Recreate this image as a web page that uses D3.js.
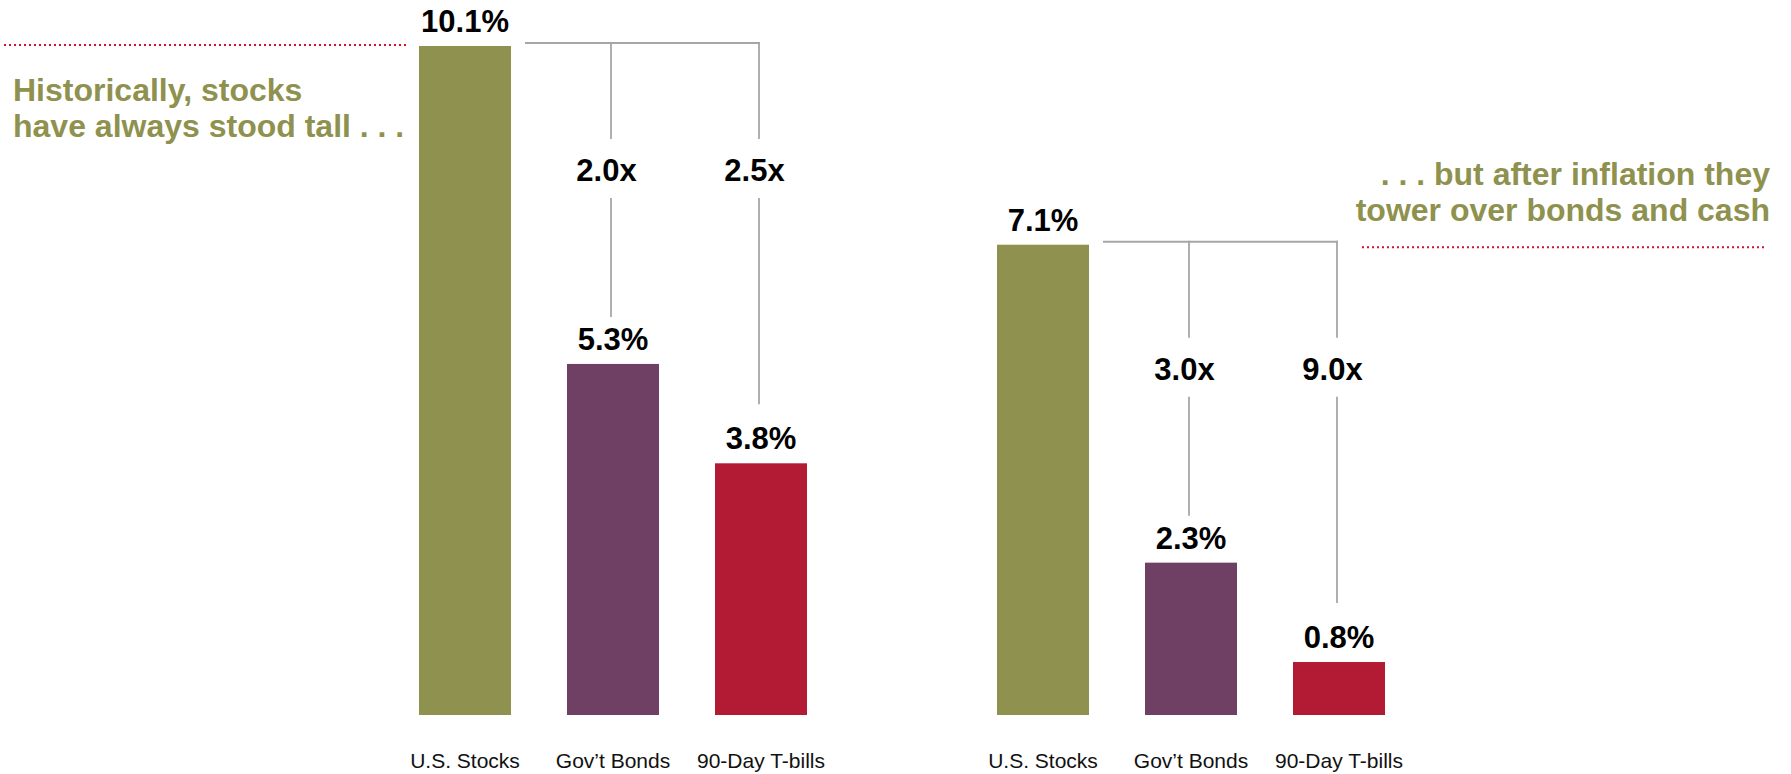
<!DOCTYPE html>
<html>
<head>
<meta charset="utf-8">
<script src="https://cdn.jsdelivr.net/npm/d3@7"></script>
<style>
  html, body { margin: 0; padding: 0; background: #ffffff; }
  svg { display: block; }
  text { font-family: "Liberation Sans", Arial, Helvetica, sans-serif; }
</style>
</head>
<body>
<script>
// Asset classes shown in each panel
const categories = ["U.S. Stocks", "Gov\u2019t Bonds", "90-Day T-bills"];
// Average annual returns, before inflation (left) and after inflation (right)
const nominalReturns = [10.1, 5.3, 3.8];
const realReturns = [7.1, 2.3, 0.8];
// How many times stocks out-earn bonds and T-bills in each panel
const nominalMultiples = ["2.0x", "2.5x"];
const realMultiples = ["3.0x", "9.0x"];
const barColors = ["#8f914f", "#6f4063", "#b31b34"];

const W = 1791, H = 774;
const olive = "#8f914f";
const bracketGray = "#a6a6a6";
const dotRed = "#d6112e";

const svg = d3.select("body").append("svg")
  .attr("width", W).attr("height", H);

// Shared vertical scale for both panels
const y = d3.scaleLinear().domain([0, 10.1]).range([715, 46]);

const fmtPct = d => d3.format(".1f")(d) + "%";

function panel(x0, values, multiples) {
  const x = d3.scaleBand()
    .domain(categories)
    .range([x0, x0 + 444])
    .paddingInner(56 / 148)
    .paddingOuter(28 / 148);

  const g = svg.append("g");
  const rows = categories.map((c, i) => ({ c, v: values[i], color: barColors[i] }));

  g.selectAll("rect.bar").data(rows).join("rect")
    .attr("class", "bar")
    .attr("x", d => x(d.c))
    .attr("width", x.bandwidth())
    .attr("y", d => y(d.v))
    .attr("height", d => y(0) - y(d.v))
    .attr("fill", d => d.color);

  g.selectAll("text.val").data(rows).join("text")
    .attr("class", "val")
    .attr("x", d => x(d.c) + x.bandwidth() / 2)
    .attr("y", d => y(d.v) - 14)
    .attr("text-anchor", "middle")
    .attr("font-size", 31)
    .attr("font-weight", "bold")
    .attr("fill", "#000")
    .text(d => fmtPct(d.v));

  // Category axis labels (no axis line)
  g.selectAll("text.cat").data(categories).join("text")
    .attr("class", "cat")
    .attr("x", d => x(d) + x.bandwidth() / 2)
    .attr("y", 768)
    .attr("text-anchor", "middle")
    .attr("font-size", 21)
    .attr("fill", "#111")
    .text(d => d);

  // Comparison bracket from the stock bar to the other two
  const cx = c => x(c) + x.bandwidth() / 2 - 2;
  const hy = y(values[0]) - 3;
  const xStart = x(categories[0]) + x.bandwidth() + 14;
  const xEnd = cx(categories[2]);
  g.append("line")
    .attr("x1", xStart).attr("x2", xEnd + 1)
    .attr("y1", hy).attr("y2", hy)
    .attr("stroke", bracketGray).attr("stroke-width", 2);

  const labelBase = hy + 138;
  const endGap = [47, 59];
  [1, 2].forEach((i, k) => {
    const lx = cx(categories[i]);
    g.append("line")
      .attr("x1", lx).attr("x2", lx)
      .attr("y1", hy - 1).attr("y2", labelBase - 42)
      .attr("stroke", bracketGray).attr("stroke-width", 1.8);
    g.append("line")
      .attr("x1", lx).attr("x2", lx)
      .attr("y1", labelBase + 17).attr("y2", y(values[i]) - endGap[k])
      .attr("stroke", bracketGray).attr("stroke-width", 1.8);
    g.append("text")
      .attr("x", lx - 4.5)
      .attr("y", labelBase)
      .attr("text-anchor", "middle")
      .attr("font-size", 31)
      .attr("font-weight", "bold")
      .attr("fill", "#000")
      .text(multiples[k]);
  });
}

panel(391, nominalReturns, nominalMultiples);
panel(969, realReturns, realMultiples);

// Callouts
function callout(lines, xPos, baseY, anchor) {
  const t = svg.append("text")
    .attr("font-size", 32)
    .attr("font-weight", "bold")
    .attr("fill", olive)
    .attr("text-anchor", anchor);
  lines.forEach((s, i) => {
    t.append("tspan").attr("x", xPos).attr("y", baseY + i * 36.5).text(s);
  });
}
callout(["Historically, stocks", "have always stood tall . . ."], 13, 100.5, "start");
callout([". . . but after inflation they", "tower over bonds and cash"], 1770, 184.5, "end");

// Dotted guides level with the stock bars
function dotted(x1, x2, yy) {
  svg.append("line")
    .attr("x1", x1).attr("x2", x2)
    .attr("y1", yy).attr("y2", yy)
    .attr("stroke", dotRed)
    .attr("stroke-width", 2)
    .attr("stroke-dasharray", "2 3");
}
dotted(4, 408, y(nominalReturns[0]) - 1);
dotted(1362, 1767, y(realReturns[0]) + 2.5);
</script>
</body>
</html>
